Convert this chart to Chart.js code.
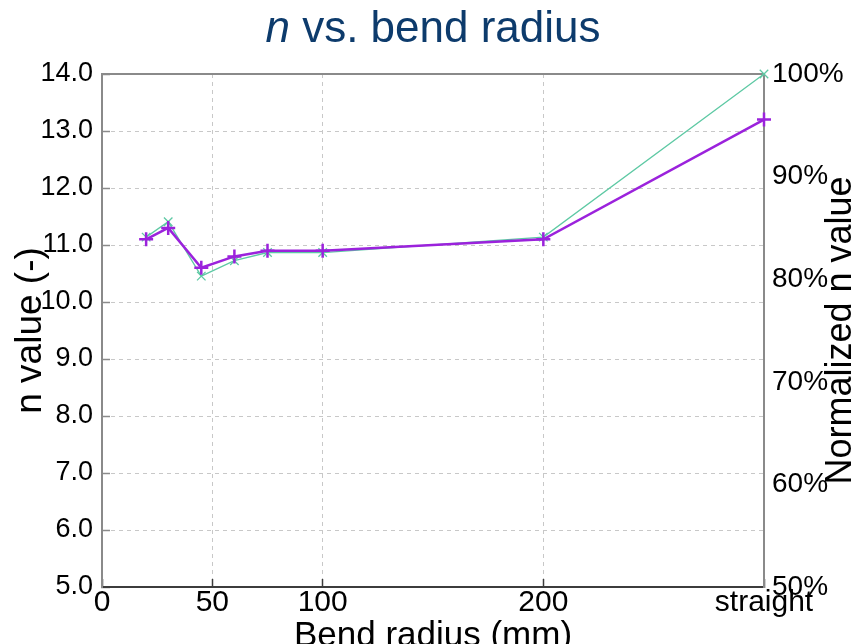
<!DOCTYPE html>
<html>
<head>
<meta charset="utf-8">
<title>n vs. bend radius</title>
<script src="https://cdn.jsdelivr.net/npm/chart.js@4.4.1/dist/chart.umd.min.js"></script>
<style>
    body { margin: 0; background: #fff; }
    canvas { display: block; }
</style>
</head>
<body>
<canvas id="myChart" width="865" height="644"></canvas>
<script>
// values
const bendRadius = [20, 30, 45, 60, 75, 100, 200, 300];
const nValue = [11.1, 11.3, 10.6, 10.8, 10.9, 10.9, 11.1, 13.2];
const normalizedN = [84.1, 85.6, 80.3, 81.8, 82.6, 82.6, 84.1, 100];
const xTickValues = [0, 50, 100, 200, 300];
const xTickLabels = ['0', '50', '100', '200', 'straight'];

const sans = "'Liberation Sans', Arial, sans-serif";

document.addEventListener('DOMContentLoaded', function () {
    buildChart()
})

function toPoints(xs, ys) {
    return xs.map((x, i) => ({ x: x, y: ys[i] }));
}

// frame line on top, main title and right axis title
const extrasPlugin = {
    id: 'extras',
    beforeDatasetsDraw(chart) {
        const ctx = chart.ctx;
        const a = chart.chartArea;
        ctx.save();
        ctx.strokeStyle = '#8a8a8a';
        ctx.lineWidth = 2;
        ctx.beginPath();
        ctx.moveTo(a.left, a.top);
        ctx.lineTo(a.right, a.top);
        ctx.stroke();
        ctx.restore();
    },
    afterDraw(chart) {
        const ctx = chart.ctx;
        const a = chart.chartArea;
        ctx.save();
        // title: italic n + rest
        ctx.fillStyle = '#0d3b6c';
        ctx.textBaseline = 'alphabetic';
        ctx.textAlign = 'left';
        const italic = 'italic 44px ' + sans;
        const normal = '44px ' + sans;
        ctx.font = italic;
        const w1 = ctx.measureText('n').width;
        ctx.font = normal;
        const rest = ' vs. bend radius';
        const w2 = ctx.measureText(rest).width;
        let x = 433 - (w1 + w2) / 2;
        ctx.font = italic;
        ctx.fillText('n', x, 42);
        ctx.font = normal;
        ctx.fillText(rest, x + w1, 42);

        // right axis title, reads bottom to top
        ctx.fillStyle = '#000';
        ctx.font = '36px ' + sans;
        ctx.textAlign = 'center';
        ctx.translate(851, (a.top + a.bottom) / 2);
        ctx.rotate(-Math.PI / 2);
        ctx.fillText('Normalized n value', 0, 0);
        ctx.restore();
    }
};

function buildChart() {
    const ctx = document.getElementById('myChart');
    new Chart(ctx, {
        type: 'line',
        data: {
            datasets: [{
                label: 'n value',
                data: toPoints(bendRadius, nValue),
                yAxisID: 'y',
                borderColor: '#9b22dc',
                backgroundColor: '#9b22dc',
                borderWidth: 2.5,
                pointStyle: 'cross',
                pointRadius: 7,
                pointBorderWidth: 2.5,
                tension: 0,
                clip: false
            }, {
                label: 'Normalized n value',
                data: toPoints(bendRadius, normalizedN),
                yAxisID: 'y2',
                borderColor: '#5ec9a4',
                backgroundColor: '#5ec9a4',
                borderWidth: 1.3,
                pointStyle: 'crossRot',
                pointRadius: 6,
                pointBorderWidth: 1.3,
                tension: 0,
                clip: false
            }]
        },
        options: {
            responsive: false,
            animation: false,
            layout: { padding: { top: 74, left: 0, right: 0, bottom: 0 } },
            plugins: {
                legend: { display: false },
                tooltip: { enabled: false }
            },
            scales: {
                x: {
                    type: 'linear',
                    min: 0,
                    max: 300,
                    afterBuildTicks: function (scale) {
                        scale.ticks = xTickValues.map(v => ({ value: v }));
                    },
                    afterFit: function (scale) { scale.height = 57; },
                    ticks: {
                        autoSkip: false,
                        maxRotation: 0,
                        padding: 9,
                        color: '#000',
                        font: { family: sans, size: 30, lineHeight: 1 },
                        callback: function (value) {
                            const i = xTickValues.indexOf(value);
                            return i >= 0 ? xTickLabels[i] : '';
                        }
                    },
                    // negative tick length puts the small tick marks inside the plot
                    grid: { color: '#c8c8c8', lineWidth: 1, drawTicks: true, tickLength: -8, tickColor: '#3c3c3c', tickWidth: 1.5 },
                    border: { color: '#3c3c3c', width: 2, dash: [4, 4] },
                    title: {
                        display: true,
                        text: 'Bend radius (mm)',
                        color: '#000',
                        font: { family: sans, size: 35, lineHeight: 1 },
                        padding: { top: 0, bottom: -10 }
                    }
                },
                y: {
                    position: 'left',
                    min: 5,
                    max: 14,
                    afterFit: function (scale) { scale.width = 102; },
                    ticks: {
                        stepSize: 1,
                        padding: 17,
                        color: '#000',
                        font: { family: sans, size: 27 },
                        callback: function (value) { return value.toFixed(1); }
                    },
                    grid: { color: '#c8c8c8', lineWidth: 1, drawTicks: true, tickLength: -8, tickColor: '#8a8a8a', tickWidth: 1.5 },
                    border: { color: '#8a8a8a', width: 2, dash: [4, 4] },
                    title: {
                        display: true,
                        text: 'n value (-)',
                        color: '#000',
                        font: { family: sans, size: 37, lineHeight: 1 },
                        padding: { top: 12, bottom: 0 }
                    }
                },
                y2: {
                    position: 'right',
                    min: 50,
                    max: 100,
                    afterFit: function (scale) { scale.width = 101; },
                    ticks: {
                        stepSize: 10,
                        padding: 8,
                        color: '#000',
                        font: { family: sans, size: 28 },
                        callback: function (value) { return value + '%'; }
                    },
                    grid: { drawOnChartArea: false, drawTicks: false },
                    border: { color: '#8a8a8a', width: 2 }
                }
            }
        },
        plugins: [extrasPlugin]
    });
}
</script>
</body>
</html>
